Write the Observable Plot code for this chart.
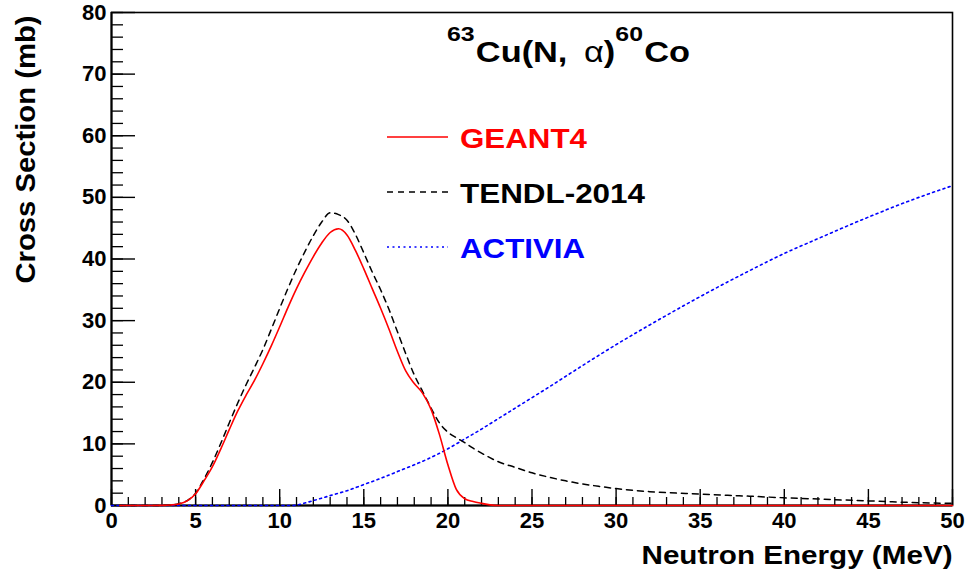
<!DOCTYPE html>
<html><head><meta charset="utf-8">
<script src="https://cdn.jsdelivr.net/npm/d3@7"></script>
<script src="https://cdn.jsdelivr.net/npm/@observablehq/plot@0.6"></script>
<style>
body{margin:0;background:#fff;}
#chart svg{display:block;}
</style></head><body><div id="chart"></div>
<script>
// ---- data ----
const energyGeant4 = [0.5, 2, 3, 3.5, 4, 4.5, 5, 5.5, 6, 6.5, 7, 7.5, 8, 8.5, 9, 9.5, 10, 10.5, 11, 11.5, 12, 12.5, 13, 13.5, 14, 14.5, 15, 15.5, 16, 16.5, 17, 17.5, 18, 18.5, 19, 19.5, 20, 20.5, 21, 21.5, 22, 22.5, 23, 30, 40, 50];
const xsGeant4 = [0, 0, 0.02, 0.08, 0.25, 0.75, 1.9, 4.0, 6.3, 9.2, 12.3, 15.3, 17.9, 20.3, 23.0, 25.9, 29.0, 32.2, 35.2, 37.9, 40.4, 42.6, 44.3, 44.9, 43.9, 41.4, 38.4, 35.2, 32.0, 28.6, 25.0, 21.8, 19.8, 18.2, 15.6, 11.5, 6.6, 2.6, 1.1, 0.65, 0.35, 0.1, 0, 0, 0, 0];

const energyTendl = [0.5, 2, 3, 3.5, 4, 4.5, 5, 5.5, 6, 6.5, 7, 7.5, 8, 8.5, 9, 9.5, 10, 10.5, 11, 11.5, 12, 12.5, 13, 13.5, 14, 14.5, 15, 15.5, 16, 16.5, 17, 17.5, 18, 18.5, 19, 19.5, 20, 20.5, 21, 21.5, 22, 23, 24, 25, 26, 27, 28, 29, 30, 32, 35, 38, 40, 42, 45, 48, 50];
const xsTendl = [0, 0, 0.02, 0.1, 0.3, 0.8, 2.0, 4.3, 7.0, 10.1, 13.4, 16.6, 19.6, 22.4, 25.3, 28.6, 32.0, 35.3, 38.4, 41.2, 43.8, 46.0, 47.5, 47.2, 46.3, 44.0, 41.0, 37.9, 35.0, 31.8, 28.2, 24.6, 21.2, 18.5, 15.8, 13.4, 11.9, 11.0, 10.2, 9.3, 8.5, 7.1, 6.2, 5.3, 4.6, 4.0, 3.5, 3.1, 2.75, 2.25, 1.85, 1.5, 1.25, 1.05, 0.75, 0.45, 0.35];

const energyActivia = [0, 5, 10, 10.8, 11.5, 12, 13, 14, 15, 16, 17, 18, 19, 20, 21, 22, 23, 24, 25, 26, 28, 30, 32, 35, 38, 40, 42, 45, 48, 50];
const xsActivia = [0, 0, 0, 0, 0.4, 0.8, 1.6, 2.4, 3.4, 4.4, 5.5, 6.6, 7.8, 9.2, 10.8, 12.4, 14.1, 15.8, 17.5, 19.2, 22.7, 26.1, 29.3, 33.9, 38.2, 40.9, 43.3, 46.8, 50.0, 51.9];

const seriesNames = ["GEANT4", "TENDL-2014", "ACTIVIA"];
const seriesColors = ["#ff0000", "#000000", "#0000ff"];
const xTickLabels = [0, 5, 10, 15, 20, 25, 30, 35, 40, 45, 50];
const yTickLabels = [0, 10, 20, 30, 40, 50, 60, 70, 80];
const xMinorTicks = d3.range(0, 51, 1);
const yMinorTicks = d3.range(0, 81, 2);
const xTitle = "Neutron Energy (MeV)";
const yTitle = "Cross Section (mb)";

// ---- build tables ----
const geant4 = energyGeant4.map((e, i) => ({e, v: xsGeant4[i]}));
const tendl = energyTendl.map((e, i) => ({e, v: xsTendl[i]}));
const activia = energyActivia.map((e, i) => ({e, v: xsActivia[i]}));

const FONT = "'Liberation Sans', Arial, Helvetica, sans-serif";
const W = 967, H = 573, ML = 111, MR = 15, MT = 12, MB = 68;
const plotW = W - ML - MR, plotH = H - MT - MB;

const chart = Plot.plot({
  width: W,
  height: H,
  marginLeft: ML,
  marginRight: MR,
  marginTop: MT,
  marginBottom: MB,
  style: {fontFamily: FONT, fontWeight: "bold", background: "white", color: "black", overflow: "visible"},
  x: {domain: [0, 50]},
  y: {domain: [0, 80]},
  marks: [
    Plot.frame({stroke: "black", strokeWidth: 1.6}),
    // minor ticks (inside)
    Plot.ruleX(xMinorTicks, {x: d => d, insetTop: plotH - 8, stroke: "black", strokeWidth: 1.3}),
    Plot.ruleY(yMinorTicks, {y: d => d, insetRight: plotW - 12, stroke: "black", strokeWidth: 1.3}),
    // major ticks (inside)
    Plot.ruleX(xTickLabels, {x: d => d, insetTop: plotH - 16, stroke: "black", strokeWidth: 1.4}),
    Plot.ruleY(yTickLabels, {y: d => d, insetRight: plotW - 24, stroke: "black", strokeWidth: 1.4}),
    // tick labels
    Plot.axisX(xTickLabels, {tickSize: 0, tickPadding: 7, fontSize: 22, fontWeight: "bold", label: null}),
    Plot.axisY(yTickLabels, {tickSize: 0, tickPadding: 5, fontSize: 22, fontWeight: "bold", label: null}),
    // axis lines
    Plot.ruleX([0], {stroke: "black", strokeWidth: 2}),
    Plot.ruleY([0], {stroke: "black", strokeWidth: 2}),
    // curves
    Plot.line(activia, {x: "e", y: "v", stroke: seriesColors[2], strokeWidth: 1.6, strokeDasharray: "2,3.5", curve: "monotone-x"}),
    Plot.line(tendl, {x: "e", y: "v", stroke: seriesColors[1], strokeWidth: 1.5, strokeDasharray: "6,5", curve: "monotone-x"}),
    Plot.line(geant4, {x: "e", y: "v", stroke: seriesColors[0], strokeWidth: 1.6, curve: "monotone-x"}),
    // axis titles
    Plot.text([xTitle], {text: d => d, frameAnchor: "bottom-right", textAnchor: "end", lineAnchor: "bottom", dy: 58, fontSize: 26, fontWeight: "bold"}),
    Plot.text([yTitle], {text: d => d, frameAnchor: "top-left", textAnchor: "end", lineAnchor: "bottom", rotate: -90, dx: -77, dy: 3, fontSize: 27, fontWeight: "bold"})
  ]
});

const svg = d3.select(chart);

// stretch the axis titles to the reference widths
svg.selectAll("text").filter(function () { return this.textContent === xTitle; })
  .attr("textLength", 311).attr("lengthAdjust", "spacingAndGlyphs");
svg.selectAll("text").filter(function () { return this.textContent === yTitle; })
  .attr("textLength", 268).attr("lengthAdjust", "spacingAndGlyphs");

// title with superscripts
const title = svg.append("text")
  .attr("x", 447).attr("y", 62)
  .attr("text-anchor", "start")
  .attr("font-family", FONT).attr("font-weight", "bold").attr("font-size", 29)
  .attr("fill", "black");
title.append("tspan").attr("font-size", 21).attr("dy", -21).text("63");
title.append("tspan").attr("dy", 21).attr("dx", 1).text("Cu(N,");
title.append("tspan").attr("font-weight", "normal").attr("dx", 14).text("α");
title.append("tspan").text(")");
title.append("tspan").attr("font-size", 21).attr("dy", -21).text("60");
title.append("tspan").attr("dy", 21).attr("dx", 1).text("Co");
title.attr("textLength", 243).attr("lengthAdjust", "spacingAndGlyphs");

// legend
const legendY = [137, 192, 247];
const legendDash = [null, "6,5", "2,3.5"];
const legendLen = [127, 185, 125];
const lg = svg.append("g");
seriesNames.forEach((name, i) => {
  const l = lg.append("line")
    .attr("x1", 387).attr("x2", 448)
    .attr("y1", legendY[i]).attr("y2", legendY[i])
    .attr("stroke", seriesColors[i]).attr("stroke-width", 1.6);
  if (legendDash[i]) l.attr("stroke-dasharray", legendDash[i]);
  lg.append("text")
    .attr("x", 460).attr("y", legendY[i] + 10.5)
    .attr("text-anchor", "start")
    .attr("font-family", FONT).attr("font-weight", "bold").attr("font-size", 28)
    .attr("textLength", legendLen[i]).attr("lengthAdjust", "spacingAndGlyphs")
    .attr("fill", seriesColors[i])
    .text(name);
});

document.getElementById("chart").appendChild(chart);
</script>
</body></html>
